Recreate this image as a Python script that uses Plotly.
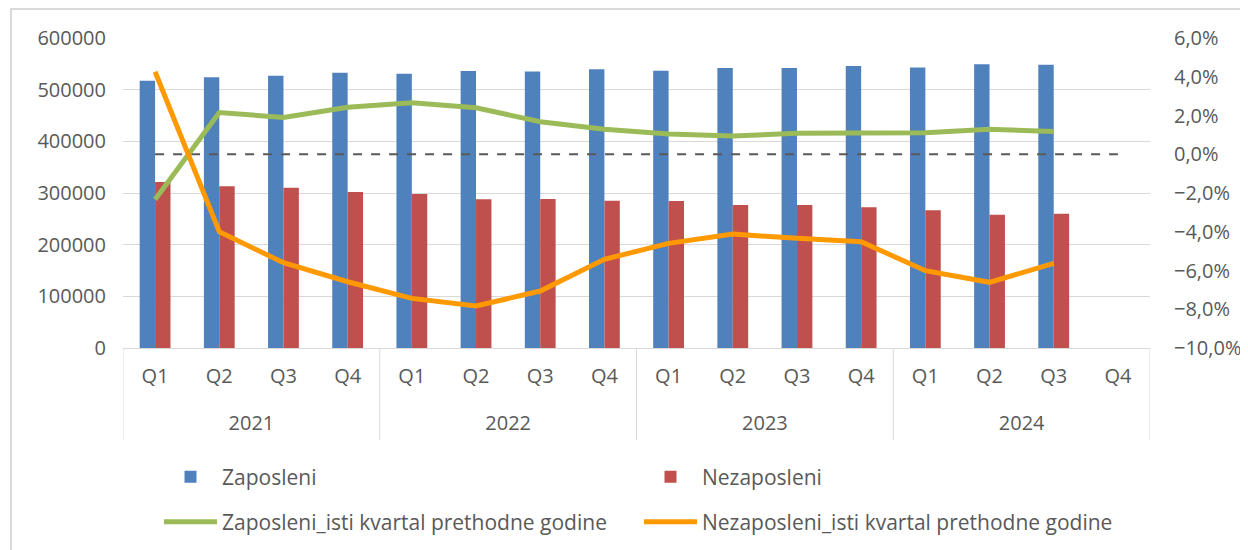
import plotly.graph_objects as go

years = ["2021", "2022", "2023", "2024"]
quarters = ["Q1", "Q2", "Q3", "Q4"]
categories = [f"{y} {q}" for y in years for q in quarters]
quarter_labels = [q for y in years for q in quarters]

zaposleni = [517400, 524000, 527000, 532800, 531000, 536100, 535400, 539400,
             536800, 541900, 541900, 545800, 542800, 549000, 548400, None]
nezaposleni = [321300, 312900, 310300, 301900, 298100, 287700, 288400, 285100,
               284500, 276800, 276800, 272300, 266500, 258100, 260000, None]
zap_yoy = [-0.0233, 0.0215, 0.0190, 0.0242, 0.0266, 0.0240, 0.0168, 0.0129,
           0.0105, 0.0094, 0.0108, 0.0111, 0.0111, 0.0129, 0.0117, None]
nez_yoy = [0.0426, -0.0400, -0.0560, -0.0658, -0.0744, -0.0783, -0.0706, -0.0542,
           -0.0460, -0.0412, -0.0434, -0.0451, -0.0601, -0.0661, -0.0563, None]
nula = [0] * 16

FONT = "Open Sans"
TXT = "#595959"
GRID = "#D9D9D9"

OFF = 8  # page body margin
W, H = 1248 - OFF, 550 - OFF
L, T = 123 - OFF, 38 - OFF
R = W - (1150 - OFF)
B = H - (348 - OFF)
PW, PH = W - L - R, H - T - B

def px_x(p):
    return (p - OFF - L) / PW

def px_y(p):
    return (H - B - (p - OFF)) / PH

nq = len(quarters)
ncat = len(categories)
year_centers = [i * nq + (nq - 1) / 2 for i in range(len(years))]
dividers = [i * nq - 0.5 for i in range(len(years) + 1)]

fig = go.Figure()
fig.add_trace(go.Bar(x=categories, y=zaposleni, name="Zaposleni", marker_color="#4F81BD",
                     marker_line_width=0, legend="legend"))
fig.add_trace(go.Bar(x=categories, y=nezaposleni, name="Nezaposleni", marker_color="#C0504D",
                     marker_line_width=0, legend="legend"))
fig.add_trace(go.Scatter(x=categories, y=nula, mode="lines", yaxis="y2", showlegend=False,
                         hoverinfo="skip",
                         line=dict(color="#595959", width=2, dash="dash")))
fig.add_trace(go.Scatter(x=categories, y=zap_yoy, mode="lines", yaxis="y2",
                         name="Zaposleni_isti kvartal prethodne godine",
                         line=dict(color="#9BBB59", width=5), legend="legend2"))
fig.add_trace(go.Scatter(x=categories, y=nez_yoy, mode="lines", yaxis="y2",
                         name="Nezaposleni_isti kvartal prethodne godine",
                         line=dict(color="#FF9900", width=5), legend="legend2"))
# carrier for the year-level axis
fig.add_trace(go.Scatter(x=year_centers, y=[None] * len(years), xaxis="x2",
                         mode="markers", showlegend=False, hoverinfo="skip"))

legend_common = dict(orientation="h", xanchor="left", yanchor="middle",
                     font=dict(family=FONT, size=21, color=TXT),
                     itemwidth=53, entrywidth=412, bgcolor="rgba(0,0,0,0)")

tickfont = dict(family=FONT, size=20, color=TXT)

shapes = [dict(type="line", xref="x", yref="paper", x0=d, x1=d,
               y0=px_y(440), y1=0, line=dict(color=GRID, width=1))
          for d in dividers]
shapes.append(dict(type="rect", xref="paper", yref="paper",
                   x0=px_x(11), x1=px_x(1260), y0=px_y(560), y1=px_y(9),
                   line=dict(color=GRID, width=2), fillcolor="rgba(0,0,0,0)",
                   layer="below"))

fig.update_layout(
    width=W, height=H,
    margin=dict(l=L, r=R, t=T, b=B, autoexpand=False),
    paper_bgcolor="white", plot_bgcolor="white",
    separators=",.",
    font=dict(family=FONT, size=20, color=TXT),
    barmode="group", bargap=0.52, bargroupgap=0,
    xaxis=dict(type="category", range=[-0.5, ncat - 0.5],
               tickmode="array", tickvals=categories, ticktext=quarter_labels,
               showgrid=False, showline=True, linecolor=GRID, linewidth=1,
               ticks="", ticklabelstandoff=10, automargin=False, tickfont=tickfont),
    xaxis2=dict(overlaying="x", anchor="y", side="bottom", range=[-0.5, ncat - 0.5],
                tickmode="array", tickvals=year_centers, ticktext=years,
                showgrid=False, showline=False, zeroline=False, ticks="",
                ticklabelstandoff=61, automargin=False, tickfont=tickfont),
    yaxis=dict(range=[0, 600000], dtick=100000, tickformat="d",
               showgrid=True, gridcolor=GRID, gridwidth=1, zeroline=False,
               ticks="", ticklabelstandoff=16, automargin=False, tickfont=tickfont),
    yaxis2=dict(overlaying="y", side="right", range=[-0.10, 0.06], dtick=0.02,
                tickformat=".1%", showgrid=False, zeroline=False, ticks="",
                ticklabelstandoff=23, automargin=False, tickfont=tickfont),
    legend=dict(x=px_x(159), y=px_y(477), **legend_common),
    legend2=dict(x=px_x(159), y=px_y(522), **legend_common),
    shapes=shapes,
)

fig.write_html("out.html")
